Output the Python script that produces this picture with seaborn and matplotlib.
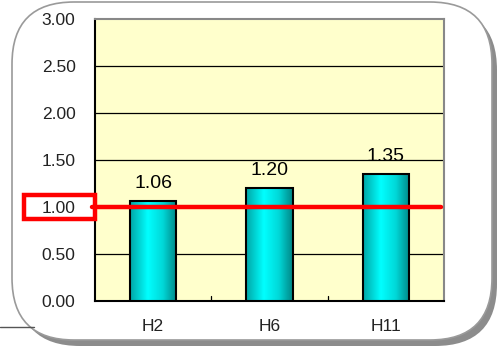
import numpy as np
import pandas as pd
import matplotlib
matplotlib.use("Agg")
import matplotlib.pyplot as plt
import seaborn as sns
from matplotlib.patches import FancyBboxPatch, Rectangle
from matplotlib.colors import LinearSegmentedColormap

periods = ["H2", "H6", "H11"]
ratios = [1.06, 1.20, 1.35]
ratio_labels = ["1.06", "1.20", "1.35"]
yticks = [0.0, 0.5, 1.0, 1.5, 2.0, 2.5, 3.0]
reference_level = 1.0

sns.set_style("white")
plt.rcParams["font.family"] = ["Liberation Sans", "DejaVu Sans"]

W, H = 501, 349
fig = plt.figure(figsize=(W / 100, H / 100), dpi=100)

# background callout shape, pixel coordinates
bg = fig.add_axes([0, 0, 1, 1])
bg.set_xlim(0, W)
bg.set_ylim(H, 0)
bg.axis("off")
shadow = FancyBboxPatch((18, 8), 479, 338, boxstyle="round,pad=0,rounding_size=62",
                        facecolor="#8c8c8c", edgecolor="none")
bg.add_patch(shadow)
card = FancyBboxPatch((12, 2), 480, 338, boxstyle="round,pad=0,rounding_size=62",
                      facecolor="white", edgecolor="#9a9a9a", linewidth=1.2)
bg.add_patch(card)
bg.plot([0, 34], [327, 327], color="#555555", linewidth=1)

ax = fig.add_axes([95 / W, 1 - 301 / H, 349 / W, 282 / H])
df = pd.DataFrame({"period": periods, "ratio": ratios})
sns.barplot(data=df, x="period", y="ratio", ax=ax, width=0.4,
            color="cyan", edgecolor="black", linewidth=1.5, zorder=3)
ax.set_facecolor("#ffffcc")
ax.set_ylim(0, 3.0)
ax.set_xlim(-0.5, 2.5)
ax.set_yticks(yticks)
ax.set_yticklabels([f"{v:.2f}" for v in yticks], fontsize=12.5, color="#222222")
ax.tick_params(axis="y", length=0, pad=14)
ax.tick_params(axis="x", length=0, pad=13, labelsize=12.5, labelcolor="#222222")
ax.set_xlabel("")
ax.set_ylabel("")
for v in yticks[1:-1]:
    ax.axhline(v, color="black", linewidth=0.9, zorder=1)
for x in [0.5, 1.5]:
    ax.plot([x, x], [0, 0.05], color="black", linewidth=0.9, zorder=2)

for side in ["top", "right"]:
    ax.spines[side].set_color("#888888")
    ax.spines[side].set_linewidth(1.5)
for side in ["left", "bottom"]:
    ax.spines[side].set_color("black")
    ax.spines[side].set_linewidth(1.5)

# gradient fill for bars
grad = LinearSegmentedColormap.from_list(
    "bar", [(0, "#00a5a5"), (0.38, "#00ffff"), (0.7, "#00d8d8"), (1, "#008585")])
gvals = np.linspace(0, 1, 256).reshape(1, -1)
for p in ax.patches:
    x0, y0 = p.get_x(), p.get_y()
    w, h = p.get_width(), p.get_height()
    im = ax.imshow(gvals, cmap=grad, aspect="auto", extent=[x0, x0 + w, y0, y0 + h],
                   zorder=3, interpolation="bilinear")
    im.set_clip_path(p)
    p.set_facecolor("none")
    p.set_zorder(4)
ax.set_xlim(-0.5, 2.5)
ax.set_ylim(0, 3.0)

for i, lab in enumerate(ratio_labels):
    ax.text(i, ratios[i] + 0.1, lab, ha="center", va="bottom", fontsize=14,
            color="black", zorder=5)

# reference line at 1.00 and highlight box
ax.plot([-0.009, 0.991], [reference_level, reference_level], color="#ff0000", linewidth=3.2,
        transform=ax.get_yaxis_transform(), clip_on=False, zorder=6)
bg2 = fig.add_axes([0, 0, 1, 1], facecolor="none")
bg2.set_xlim(0, W)
bg2.set_ylim(H, 0)
bg2.axis("off")
bg2.add_patch(Rectangle((24, 195), 71, 24, facecolor="none", edgecolor="#ff0000", linewidth=3.2))

fig.savefig("out.png", dpi=100)
